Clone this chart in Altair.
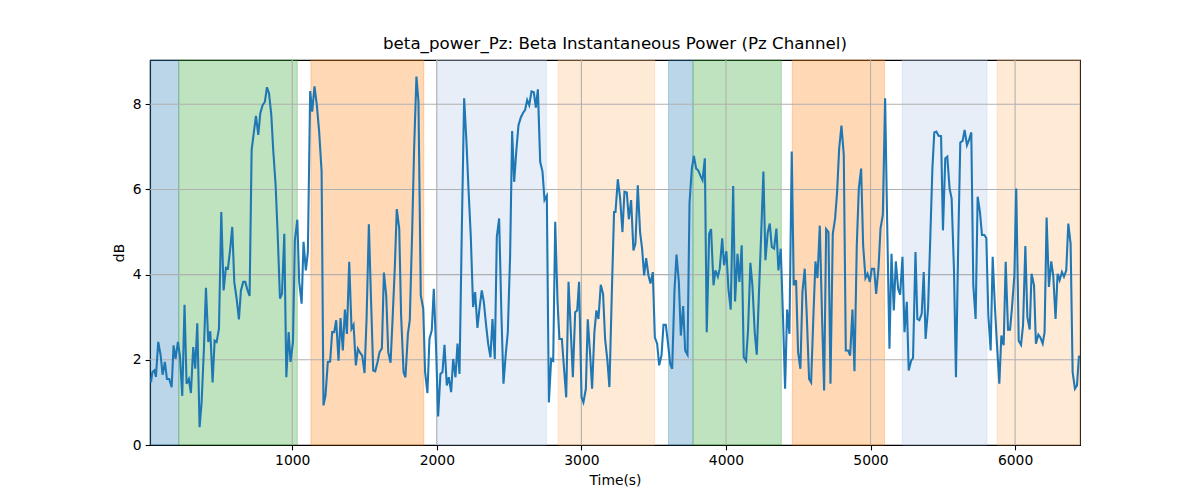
import altair as alt
import pandas as pd

# ---- line data: time (s) and beta power (dB) ----
time_s = [
    23, 32, 46, 57, 73, 90, 103, 119, 133, 149, 166, 179, 193, 209, 223, 239, 255, 269, 285, 299,
    315, 329, 343, 359, 373, 389, 403, 419, 433, 449, 463, 477, 493, 509, 525, 541, 555, 571, 585, 599,
    615, 631, 645, 661, 675, 691, 705, 719, 735, 749, 765, 779, 795, 811, 825, 839, 855, 869, 885, 899,
    915, 929, 945, 959, 975, 988, 1005, 1018, 1035, 1048, 1065, 1078,
    1094, 1108, 1124, 1138, 1154, 1170, 1186, 1203, 1216, 1230, 1246, 1262, 1276, 1290, 1304, 1320,
    1334, 1350, 1364, 1378, 1394, 1410, 1424, 1440, 1454, 1470, 1484, 1500, 1514, 1530, 1544, 1560,
    1574, 1590, 1604, 1620, 1634, 1650, 1664, 1680, 1694, 1710, 1723, 1740, 1753, 1770, 1783, 1800,
    1813, 1830, 1843, 1859, 1873, 1889, 1906, 1919, 1935, 1949, 1965, 1979, 1995, 2009, 2025, 2039,
    2053, 2069, 2083, 2099, 2113, 2129,
    2143, 2157, 2173, 2189, 2205, 2219, 2235, 2251, 2265, 2281, 2295, 2311, 2325, 2341, 2355, 2371,
    2385, 2401, 2415, 2431, 2447, 2461, 2477, 2491, 2507, 2521, 2535, 2551, 2565, 2581, 2595, 2611,
    2625, 2639, 2655, 2671, 2685, 2699, 2715, 2731, 2745, 2761, 2775, 2791, 2805, 2819, 2835, 2848,
    2865, 2881, 2895, 2911, 2925, 2941, 2957, 2971, 2984, 3001, 3014, 3031, 3044, 3061, 3074, 3090,
    3104, 3118, 3134, 3150, 3164, 3180, 3194, 3210, 3226,
    3236, 3252, 3268, 3284, 3298, 3314, 3328, 3344, 3360, 3374, 3390, 3406, 3420, 3434, 3448, 3464,
    3478, 3494, 3508, 3524, 3538, 3554, 3568, 3584, 3598, 3614, 3628, 3644, 3658, 3674, 3688, 3704,
    3718, 3734, 3748, 3764, 3778, 3794, 3808, 3824, 3838, 3854, 3867, 3884, 3897, 3914, 3927, 3944,
    3957, 3974, 3987, 4003, 4017, 4033, 4050, 4063, 4080, 4093, 4109, 4123, 4139, 4153, 4169, 4183,
    4199, 4213, 4229, 4243, 4259, 4273, 4289, 4303,
    4317, 4333, 4349, 4363, 4379, 4395, 4409, 4423, 4439, 4455, 4469, 4485, 4499, 4515, 4529, 4545,
    4559, 4575, 4589, 4605, 4619, 4633, 4649, 4665, 4679, 4693, 4709, 4723, 4739, 4755, 4769, 4783,
    4799, 4815, 4829, 4845, 4859, 4875, 4889, 4905, 4919, 4935, 4949, 4965, 4979, 4995, 5009, 5025,
    5039, 5055, 5069, 5085, 5101, 5115, 5131, 5145, 5161, 5175, 5191, 5205, 5221, 5235, 5251, 5264,
    5281, 5294, 5311, 5324, 5338, 5354, 5368,
    5381, 5398, 5414, 5428, 5441, 5455, 5471, 5488, 5501, 5517, 5531, 5547, 5561, 5577, 5591, 5607,
    5621, 5637, 5651, 5667, 5681, 5697, 5711, 5727, 5741, 5757, 5771, 5787, 5801, 5815, 5831, 5845,
    5861, 5875, 5891, 5905, 5921, 5935, 5951, 5965, 5978, 5995, 6008, 6025, 6041, 6055, 6071, 6085,
    6101, 6114, 6131, 6144, 6161, 6174, 6191, 6204, 6218, 6234, 6250, 6264, 6280, 6294, 6308, 6324,
    6338, 6354, 6368, 6384, 6398, 6414, 6428, 6442,
]
beta_db = [
    1.47, 1.71, 1.75, 1.60, 2.42, 2.10, 1.65, 1.95, 1.55, 1.55, 1.36, 2.34, 2.02, 2.42, 2.10, 1.15, 3.29, 1.44, 1.55, 1.22,
    2.30, 1.79, 2.86, 0.42, 1.00, 2.26, 3.69, 2.42, 2.67, 1.47, 2.45, 2.42, 2.73, 5.47, 3.63, 4.16, 4.14, 4.61, 5.12, 3.83,
    3.44, 2.95, 3.63, 3.83, 3.83, 3.63, 3.50, 6.93, 7.36, 7.73, 7.28, 7.79, 7.98, 8.06, 8.40, 8.26, 7.75, 6.89, 6.10, 4.96,
    3.44, 3.55, 4.96, 1.59, 2.65, 1.95, 2.42, 4.81, 5.29, 3.83, 3.32, 4.77,
    4.10, 4.53, 8.31, 7.83, 8.42, 7.98, 7.36, 6.42, 0.93, 1.16, 1.95, 1.96, 2.65, 2.65, 2.93, 1.98,
    2.98, 2.22, 3.18, 2.61, 4.30, 2.73, 2.82, 1.87, 2.26, 2.16, 2.10, 1.69, 2.96, 5.18, 3.51, 1.75,
    1.73, 1.95, 2.18, 2.27, 4.05, 3.51, 2.18, 1.93, 2.96, 4.22, 5.54, 5.08, 3.04, 1.71, 1.59, 2.61,
    2.93, 5.08, 6.96, 8.65, 8.06, 3.51, 3.20, 1.71, 1.22, 2.49, 2.69, 3.67, 2.26, 0.67, 1.67, 1.71,
    2.35, 1.40, 1.59, 1.24, 2.02, 1.59,
    2.38, 1.67, 5.08, 8.14, 7.12, 6.02, 4.89, 3.24, 3.59, 2.75, 3.20, 3.63, 3.36, 2.81, 2.38, 2.06,
    2.96, 2.02, 4.89, 5.32, 3.04, 1.44, 2.14, 2.65, 4.45, 7.37, 6.18, 6.96, 7.51, 7.69, 7.79, 7.87,
    8.10, 7.98, 8.30, 8.28, 7.92, 8.35, 6.65, 6.42, 5.75, 5.85, 1.00, 2.02, 1.98, 5.24, 3.36, 2.49,
    2.49, 1.75, 1.12, 3.83, 2.81, 1.59, 3.12, 3.16, 3.83, 1.12, 1.00, 1.32, 2.95, 2.10, 1.32, 2.65,
    3.16, 2.96, 3.76, 3.55, 2.49, 1.98, 1.36, 3.51, 5.47,
    5.47, 6.24, 5.79, 5.00, 5.95, 5.93, 5.30, 5.75, 4.57, 4.73, 6.10, 5.00, 4.61, 3.98, 4.39, 3.98,
    3.79, 4.06, 2.53, 2.38, 1.87, 2.10, 2.82, 2.82, 2.42, 1.91, 1.79, 3.63, 4.47, 3.83, 2.57, 3.26,
    2.22, 2.12, 5.69, 6.49, 6.79, 6.49, 6.45, 6.32, 6.22, 6.73, 2.65, 4.96, 5.07, 3.75, 4.10, 3.95,
    4.14, 4.85, 4.22, 4.55, 3.67, 3.18, 6.08, 3.37, 4.49, 3.83, 4.69, 2.06, 1.98, 2.71, 4.28, 3.75,
    2.65, 2.12, 3.63, 4.89, 6.42, 4.34, 4.99, 5.20,
    4.65, 4.61, 5.08, 4.10, 4.61, 2.96, 1.32, 3.18, 2.61, 6.89, 3.75, 3.87, 2.18, 1.79, 3.59, 4.14,
    3.04, 1.55, 1.47, 3.04, 4.31, 3.92, 5.15, 2.96, 1.28, 5.07, 5.00, 1.44, 4.96, 5.32, 5.95, 6.96,
    7.50, 6.81, 2.22, 2.22, 2.10, 3.18, 1.73, 4.69, 6.02, 6.49, 4.69, 3.92, 4.02, 3.83, 4.14, 4.14,
    3.55, 4.14, 5.08, 5.40, 8.14, 5.24, 2.26, 4.49, 3.16, 4.31, 3.67, 3.53, 4.42, 2.65, 3.36, 1.75,
    1.98, 2.04, 4.53, 2.96, 2.93, 3.08, 4.06,
    2.49, 3.20, 4.93, 6.49, 7.34, 7.36, 7.26, 7.25, 5.04, 6.73, 6.77, 6.02, 5.79, 4.14, 1.59, 4.77,
    7.10, 7.14, 7.40, 7.04, 7.16, 7.34, 3.75, 2.96, 5.83, 5.47, 4.93, 4.93, 4.86, 3.04, 2.22, 4.42,
    3.20, 2.34, 1.44, 2.57, 2.34, 4.30, 2.71, 2.71, 3.20, 3.98, 6.02, 2.45, 2.35, 2.81, 4.67, 3.00,
    2.71, 4.02, 3.75, 2.38, 2.59, 2.53, 2.38, 2.65, 5.34, 3.71, 4.31, 3.98, 2.96, 4.02, 3.87, 4.06,
    3.95, 4.10, 5.20, 4.73, 1.71, 1.32, 1.40, 2.10,
]

# ---- shaded segments ----
band_start = [16, 215, 1129, 1998, 2839, 3603, 3772, 4459, 5219, 5876]
band_end = [215, 1035, 1910, 2758, 3507, 3772, 4383, 5097, 5806, 6449]
band_kind = ["A", "B", "C", "D", "E", "A", "B", "C", "D", "E"]
kind_names = ["A", "B", "C", "D", "E"]
kind_colors = ["#1f77b4", "#2ca02c", "#ff7f0e", "#aec7e8", "#ffbb78"]

x_ticks = [1000, 2000, 3000, 4000, 5000, 6000]
y_ticks = [0, 2, 4, 6, 8]
y_grid = [2, 4, 6, 8]

x_domain = [16, 6449]
y_domain = [0, 9.04]

line_df = pd.DataFrame({"t": time_s, "v": beta_db})
band_df = pd.DataFrame({"t0": band_start, "t1": band_end, "kind": band_kind})
xgrid_df = pd.DataFrame({"t": x_ticks})
ygrid_df = pd.DataFrame({"v": y_grid})

x_scale = alt.Scale(domain=x_domain, nice=False, zero=False)
y_scale = alt.Scale(domain=y_domain, nice=False, zero=False)

x_axis = alt.Axis(values=x_ticks, format="d", grid=False, title="Time(s)",
                  labelFlush=False, labelOverlap=False)
y_axis = alt.Axis(values=y_ticks, format="d", grid=False, title="dB",
                  labelOverlap=False)

bands = alt.Chart(band_df).mark_rect(fillOpacity=0.3, strokeOpacity=0.3, strokeWidth=1).encode(
    x=alt.X("t0:Q", scale=x_scale, axis=x_axis),
    x2="t1:Q",
    fill=alt.Fill("kind:N", scale=alt.Scale(domain=kind_names, range=kind_colors), legend=None),
    stroke=alt.Stroke("kind:N", scale=alt.Scale(domain=kind_names, range=kind_colors), legend=None),
)

xgrid = alt.Chart(xgrid_df).mark_rule(color="#b0b0b0", strokeWidth=1.1).encode(
    x=alt.X("t:Q", scale=x_scale, axis=x_axis),
)
ygrid = alt.Chart(ygrid_df).mark_rule(color="#b0b0b0", strokeWidth=1.1).encode(
    y=alt.Y("v:Q", scale=y_scale, axis=y_axis),
)

line = alt.Chart(line_df).mark_line(color="#1f77b4", strokeWidth=2.08).encode(
    x=alt.X("t:Q", scale=x_scale, axis=x_axis),
    y=alt.Y("v:Q", scale=y_scale, axis=y_axis),
)

chart = alt.layer(bands, xgrid, ygrid, line).properties(
    width=930,
    height=385,
    title=alt.TitleParams(
        "beta_power_Pz: Beta Instantaneous Power (Pz Channel)",
        font="DejaVu Sans", fontSize=16.67, fontWeight="normal", color="black", offset=7,
    ),
    autosize=alt.AutoSizeParams(type="none"),
    padding={"left": 142, "top": 52, "right": 104, "bottom": 50},
).configure_view(
    stroke="black", strokeWidth=1.1
).configure_axis(
    labelFont="DejaVu Sans", labelFontSize=13.89, labelColor="black",
    titleFont="DejaVu Sans", titleFontSize=13.89, titleFontWeight="normal", titleColor="black",
    tickColor="black", tickSize=4.86, tickWidth=1.1, labelPadding=4.0,
    domainColor="black", domainWidth=1.1,
).configure_axisX(
    titlePadding=6
).configure_axisY(
    titlePadding=6
)

chart.save("out.html", embed_options={"renderer": "svg", "actions": False})
